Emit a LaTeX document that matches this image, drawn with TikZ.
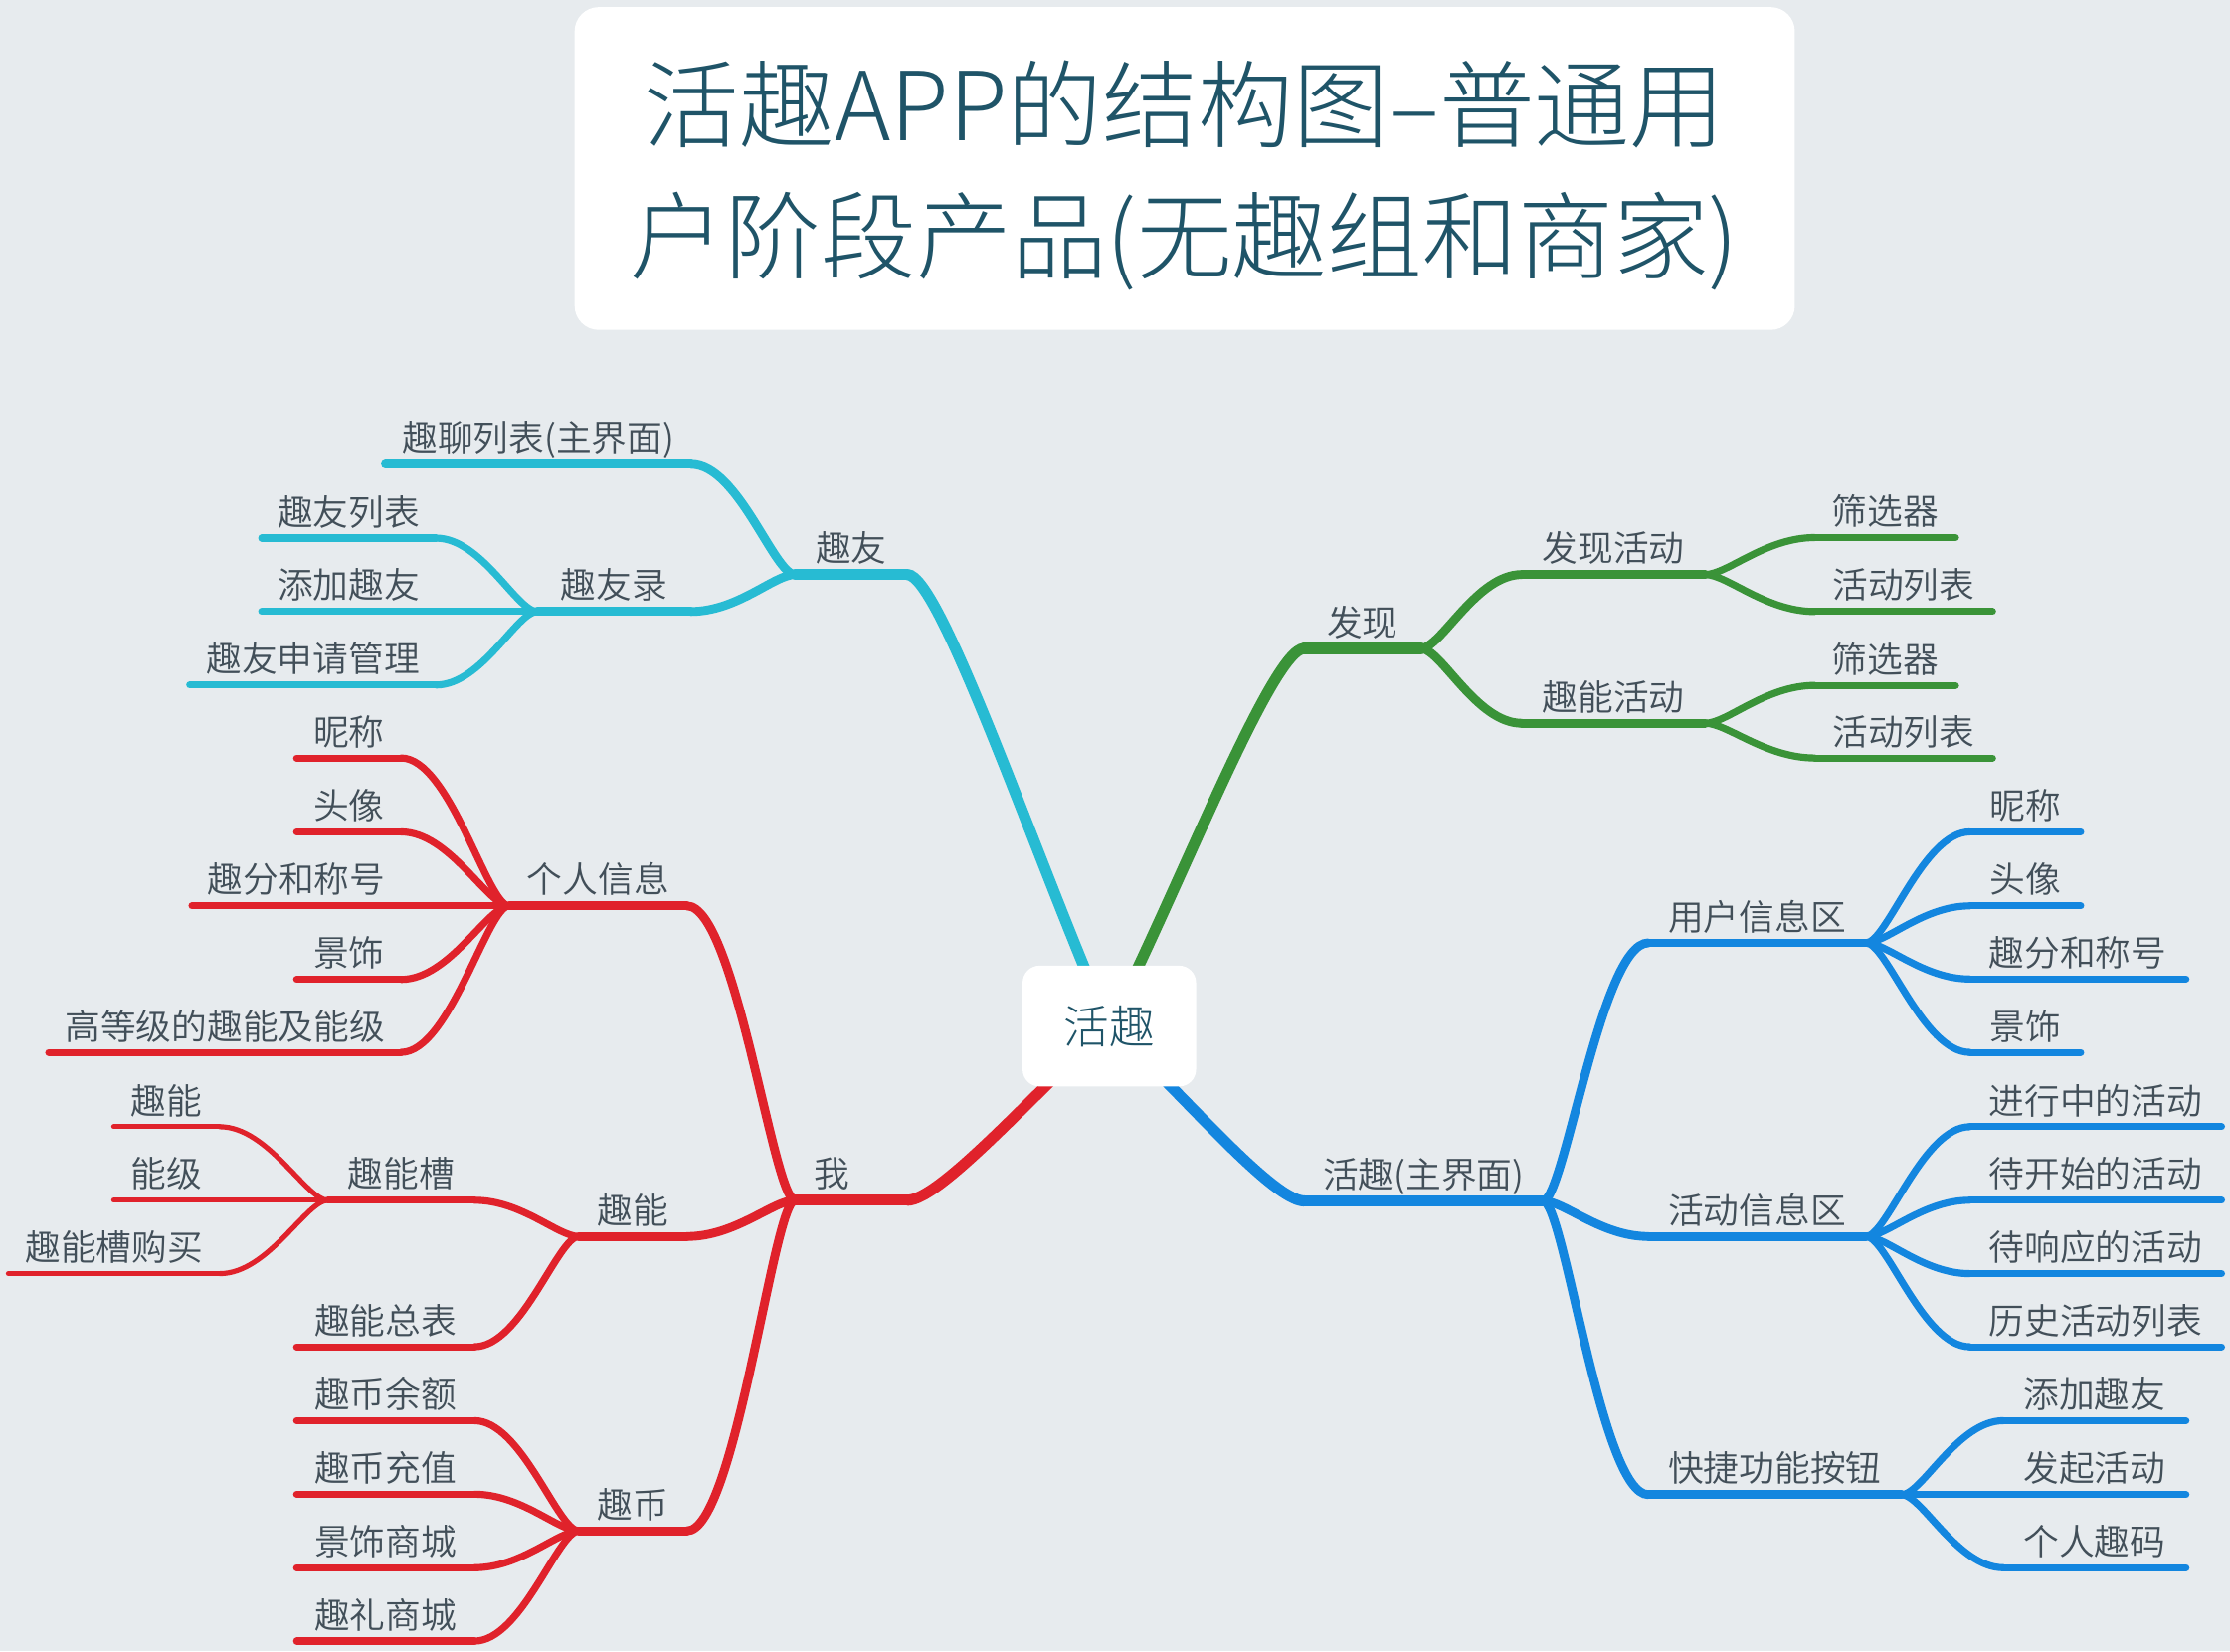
\documentclass[tikz,border=0pt]{standalone}
\usepackage{fontspec}
\setmainfont{Noto Sans CJK SC}
\newfontfamily\mmlight{Noto Sans CJK SC Light}
\newfontfamily\mmdemi{Noto Sans CJK SC DemiLight}
\usetikzlibrary{calc}
\definecolor{bgc}{RGB}{231,235,238}
\definecolor{cyc}{RGB}{39,187,211}
\definecolor{grc}{RGB}{58,147,56}
\definecolor{rdc}{RGB}{224,34,43}
\definecolor{blc}{RGB}{19,134,223}
\definecolor{txc}{RGB}{66,79,89}
\definecolor{ttc}{RGB}{31,84,104}
\tikzset{
 lone/.style={line width=7.8pt,line cap=round},
 ltwo/.style={line width=6.2pt,line cap=round},
 lthree/.style={line width=5pt,line cap=round},
 lfour/.style={line width=3.6pt,line cap=round},
 lbl/.style={inner sep=0pt,anchor=base,text=txc,font=\mmdemi\fontsize{25}{30}\selectfont},
 rootbox/.style={fill=white,rounded corners=12pt,minimum width=122pt,minimum height=85pt,text=ttc,font=\mmlight\fontsize{32}{38}\selectfont,inner sep=0pt},
 titlebox/.style={fill=white,rounded corners=17pt,minimum width=858pt,minimum height=227pt,inner sep=0pt},
 titletext/.style={inner sep=0pt,anchor=base,text=ttc,font=\mmlight\fontsize{67}{80}\selectfont},
}
\newcommand\mmtopic[7][0]{%
  \coordinate (#2-l) at (#3,#5);
  \coordinate (#2-r) at (#4,#5);
  \draw[#6] (#2-l) -- (#2-r);
  \node[lbl] (#2) at ({(#3+#4)/2+#1},{#5-9}) {#7};
}
% link from the central topic
\newcommand\mmroot[3]{%
  \draw[#1] let \p1=(#2), \p2=(#3) in (#2) .. controls ({\x1+(\x2-\x1)/3},{\y1+(\y2-\y1)/3}) and ({\x2-(\x2-\x1)/6},{\y2}) .. (#3);
}
% link from a fork to a child topic
\newcommand\mmlink[3]{%
  \draw[#1] let \p1=(#2), \p2=(#3) in (#2) .. controls ({\x1+0.2*(\x2-\x1)},{\y1}) and ({\x2-0.45*(\x2-\x1)},{\y2}) .. (#3);
}
\begin{document}
\begin{tikzpicture}[x=1pt,y=-1pt]
\fill[bgc] (0,0) rectangle (1568,1161);
\useasboundingbox (0,0) rectangle (1568,1161);
% title
\node[titlebox] (tbox) at (833,118.5) {};
\node[titletext] (title1) at (833,99) {活趣APP的结构图–普通用};
\node[titletext] (title2) at (833,191) {户阶段产品(无趣组和商家)};
\coordinate (root-c) at (780,721.5);
% cyan branch
\mmtopic{qy}{559}{638}{404}{lone,cyc}{趣友}
\mmtopic{qylb}{271}{486}{326.5}{ltwo,cyc}{趣聊列表(主界面)}
\mmtopic{qyl}{377.7}{485.7}{430}{ltwo,cyc}{趣友录}
\mmtopic{qyll}{184}{306.6}{378.4}{lthree,cyc}{趣友列表}
\mmtopic{tjqy}{184}{306.6}{430}{lthree,cyc}{添加趣友}
\mmtopic{qysq}{133.4}{306.6}{481.7}{lthree,cyc}{趣友申请管理}
\mmroot{lone,cyc}{root-c}{qy-r}
\mmlink{ltwo,cyc}{qy-l}{qylb-r}
\mmlink{ltwo,cyc}{qy-l}{qyl-r}
\mmlink{lthree,cyc}{qyl-l}{qyll-r}
\mmlink{lthree,cyc}{qyl-l}{tjqy-r}
\mmlink{lthree,cyc}{qyl-l}{qysq-r}
% red branch
\mmtopic[-13.5]{wo}{559}{638}{844}{lone,rdc}{我}
\mmtopic{grxx}{358}{483}{637}{ltwo,rdc}{个人信息}
\mmtopic{qn}{407}{483}{869.5}{ltwo,rdc}{趣能}
\mmtopic{qb}{407}{483}{1076.5}{ltwo,rdc}{趣币}
\mmtopic{nc1}{208.6}{282}{533}{lthree,rdc}{昵称}
\mmtopic{tx1}{208.6}{282}{585}{lthree,rdc}{头像}
\mmtopic{qf1}{135}{282}{637}{lthree,rdc}{趣分和称号}
\mmtopic{js1}{208.6}{282}{688.7}{lthree,rdc}{景饰}
\mmtopic{gdj}{34.3}{282}{740}{lthree,rdc}{高等级的趣能及能级}
\mmtopic{qnc}{230.6}{333.6}{844}{lthree,rdc}{趣能槽}
\mmtopic{qnzb}{208.6}{333.6}{947}{lthree,rdc}{趣能总表}
\mmtopic{qn4}{80}{154.5}{792.3}{lfour,rdc}{趣能}
\mmtopic{nj4}{80}{154.5}{844}{lfour,rdc}{能级}
\mmtopic{qncgm}{5.9}{154.5}{895.6}{lfour,rdc}{趣能槽购买}
\mmtopic{qbye}{208.6}{333.6}{999}{lthree,rdc}{趣币余额}
\mmtopic{qbcz}{208.6}{333.6}{1050.7}{lthree,rdc}{趣币充值}
\mmtopic{jssc}{208.6}{333.6}{1102.4}{lthree,rdc}{景饰商城}
\mmtopic{qlsc}{208.6}{333.6}{1154}{lthree,rdc}{趣礼商城}
\mmroot{lone,rdc}{root-c}{wo-r}
\mmlink{ltwo,rdc}{wo-l}{grxx-r}
\mmlink{ltwo,rdc}{wo-l}{qn-r}
\mmlink{ltwo,rdc}{wo-l}{qb-r}
\mmlink{lthree,rdc}{grxx-l}{nc1-r}
\mmlink{lthree,rdc}{grxx-l}{tx1-r}
\mmlink{lthree,rdc}{grxx-l}{qf1-r}
\mmlink{lthree,rdc}{grxx-l}{js1-r}
\mmlink{lthree,rdc}{grxx-l}{gdj-r}
\mmlink{lthree,rdc}{qn-l}{qnc-r}
\mmlink{lthree,rdc}{qn-l}{qnzb-r}
\mmlink{lfour,rdc}{qnc-l}{qn4-r}
\mmlink{lfour,rdc}{qnc-l}{nj4-r}
\mmlink{lfour,rdc}{qnc-l}{qncgm-r}
\mmlink{lthree,rdc}{qb-l}{qbye-r}
\mmlink{lthree,rdc}{qb-l}{qbcz-r}
\mmlink{lthree,rdc}{qb-l}{jssc-r}
\mmlink{lthree,rdc}{qb-l}{qlsc-r}
% green branch
\mmtopic{fx}{917}{999}{456}{lone,grc}{发现}
\mmtopic{fxhd}{1070}{1199}{404}{ltwo,grc}{发现活动}
\mmtopic{qnhd}{1070}{1199}{508.6}{ltwo,grc}{趣能活动}
\mmtopic{sx1}{1276}{1375}{378}{lthree,grc}{筛选器}
\mmtopic{lb1}{1276}{1401}{430}{lthree,grc}{活动列表}
\mmtopic{sx2}{1276}{1375}{482}{lthree,grc}{筛选器}
\mmtopic{lb2}{1276}{1401}{533}{lthree,grc}{活动列表}
\mmroot{lone,grc}{root-c}{fx-l}
\mmlink{ltwo,grc}{fx-r}{fxhd-l}
\mmlink{ltwo,grc}{fx-r}{qnhd-l}
\mmlink{lthree,grc}{fxhd-r}{sx1-l}
\mmlink{lthree,grc}{fxhd-r}{lb1-l}
\mmlink{lthree,grc}{qnhd-r}{sx2-l}
\mmlink{lthree,grc}{qnhd-r}{lb2-l}
% blue branch
\mmtopic{hq}{917}{1085}{844.5}{lone,blc}{活趣(主界面)}
\mmtopic{yhxx}{1159}{1312}{663}{ltwo,blc}{用户信息区}
\mmtopic{hdxx}{1159}{1312}{869.5}{ltwo,blc}{活动信息区}
\mmtopic{kjgn}{1159}{1337}{1051}{ltwo,blc}{快捷功能按钮}
\mmtopic{nc2}{1385}{1463}{585}{lthree,blc}{昵称}
\mmtopic{tx2}{1385}{1463}{637}{lthree,blc}{头像}
\mmtopic{qf2}{1385}{1537}{688.4}{lthree,blc}{趣分和称号}
\mmtopic{js2}{1385}{1463}{740}{lthree,blc}{景饰}
\mmtopic{jxz}{1385}{1562}{792.3}{lthree,blc}{进行中的活动}
\mmtopic{dks}{1385}{1562}{844}{lthree,blc}{待开始的活动}
\mmtopic{dxy}{1385}{1562}{895.6}{lthree,blc}{待响应的活动}
\mmtopic{lsh}{1385}{1562}{947}{lthree,blc}{历史活动列表}
\mmtopic{tjqy2}{1408.6}{1537}{999}{lthree,blc}{添加趣友}
\mmtopic{fqhd}{1408.6}{1537}{1051}{lthree,blc}{发起活动}
\mmtopic{grqm}{1408.6}{1537}{1102.4}{lthree,blc}{个人趣码}
\mmroot{lone,blc}{root-c}{hq-l}
\mmlink{ltwo,blc}{hq-r}{yhxx-l}
\mmlink{ltwo,blc}{hq-r}{hdxx-l}
\mmlink{ltwo,blc}{hq-r}{kjgn-l}
\mmlink{lthree,blc}{yhxx-r}{nc2-l}
\mmlink{lthree,blc}{yhxx-r}{tx2-l}
\mmlink{lthree,blc}{yhxx-r}{qf2-l}
\mmlink{lthree,blc}{yhxx-r}{js2-l}
\mmlink{lthree,blc}{hdxx-r}{jxz-l}
\mmlink{lthree,blc}{hdxx-r}{dks-l}
\mmlink{lthree,blc}{hdxx-r}{dxy-l}
\mmlink{lthree,blc}{hdxx-r}{lsh-l}
\mmlink{lthree,blc}{kjgn-r}{tjqy2-l}
\mmlink{lthree,blc}{kjgn-r}{fqhd-l}
\mmlink{lthree,blc}{kjgn-r}{grqm-l}
% root
\node[rootbox] (root) at (root-c) {活趣};
\end{tikzpicture}
\end{document}
